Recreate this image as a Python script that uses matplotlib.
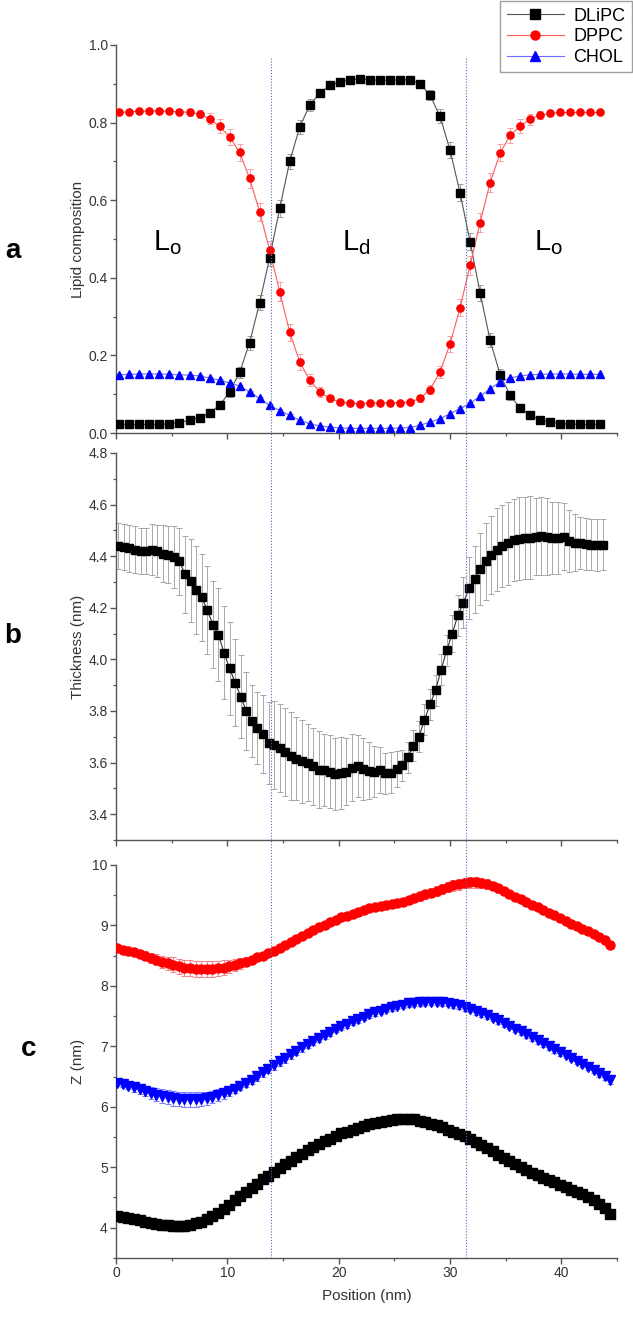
import numpy as np
import matplotlib
matplotlib.use('Agg')
from matplotlib import pyplot as plt
from matplotlib.lines import Line2D
from matplotlib import transforms
from matplotlib.ticker import MultipleLocator

plt.rcParams['font.family'] = ['Liberation Sans', 'DejaVu Sans']

# ---- panel a: lipid composition (49 points, ~0.9 nm apart)
comp_x = 0.3 + 0.9 * np.arange(49)
dlipc = [0.022, 0.022, 0.022, 0.022, 0.022, 0.024, 0.027, 0.033, 0.040, 0.052,
         0.071, 0.106, 0.156, 0.233, 0.336, 0.452, 0.579, 0.700, 0.789, 0.845,
         0.876, 0.896, 0.904, 0.910, 0.913, 0.910, 0.909, 0.909, 0.910, 0.910,
         0.900, 0.871, 0.816, 0.729, 0.619, 0.493, 0.361, 0.239, 0.150, 0.097,
         0.064, 0.046, 0.034, 0.028, 0.024, 0.023, 0.022, 0.022, 0.022]
dppc = [0.826, 0.828, 0.829, 0.830, 0.830, 0.829, 0.828, 0.826, 0.822, 0.810,
        0.790, 0.763, 0.723, 0.656, 0.570, 0.471, 0.364, 0.260, 0.183, 0.136,
        0.106, 0.089, 0.080, 0.077, 0.076, 0.077, 0.078, 0.078, 0.078, 0.080,
        0.089, 0.112, 0.157, 0.230, 0.323, 0.432, 0.542, 0.645, 0.722, 0.767,
        0.791, 0.809, 0.819, 0.824, 0.826, 0.826, 0.826, 0.826, 0.826]
chol = [0.150, 0.151, 0.152, 0.152, 0.152, 0.151, 0.150, 0.149, 0.147, 0.142,
        0.136, 0.129, 0.121, 0.106, 0.089, 0.071, 0.058, 0.046, 0.033, 0.024,
        0.018, 0.015, 0.013, 0.012, 0.012, 0.012, 0.012, 0.012, 0.013, 0.014,
        0.020, 0.028, 0.037, 0.050, 0.063, 0.077, 0.095, 0.114, 0.132, 0.142,
        0.147, 0.150, 0.151, 0.152, 0.152, 0.152, 0.151, 0.151, 0.151]
dlipc_err = [0.003, 0.003, 0.003, 0.003, 0.003, 0.004, 0.004, 0.005, 0.006, 0.008,
             0.010, 0.012, 0.015, 0.018, 0.020, 0.022, 0.022, 0.020, 0.018, 0.015,
             0.010, 0.008, 0.006, 0.005, 0.005, 0.005, 0.005, 0.005, 0.005, 0.006,
             0.008, 0.012, 0.018, 0.020, 0.022, 0.022, 0.020, 0.018, 0.015, 0.012,
             0.008, 0.006, 0.005, 0.004, 0.003, 0.003, 0.003, 0.003, 0.003]
dppc_err = [0.004, 0.004, 0.004, 0.004, 0.004, 0.005, 0.006, 0.008, 0.010, 0.014,
            0.018, 0.020, 0.022, 0.024, 0.024, 0.024, 0.024, 0.022, 0.020, 0.016,
            0.012, 0.008, 0.006, 0.005, 0.005, 0.005, 0.005, 0.005, 0.005, 0.006,
            0.008, 0.012, 0.016, 0.020, 0.022, 0.024, 0.024, 0.024, 0.022, 0.020,
            0.018, 0.014, 0.010, 0.008, 0.006, 0.005, 0.004, 0.004, 0.004]
chol_err = [0.003] * 49

# ---- panel b: thickness (88 points, 0.5 nm apart)
thick_x = 0.2 + 0.5 * np.arange(88)
thickness = [4.440, 4.435, 4.430, 4.425, 4.420, 4.420, 4.425, 4.420, 4.410, 4.405,
             4.395, 4.380, 4.330, 4.305, 4.270, 4.240, 4.190, 4.135, 4.095, 4.025,
             3.965, 3.910, 3.855, 3.800, 3.760, 3.735, 3.710, 3.675, 3.668, 3.655,
             3.640, 3.625, 3.615, 3.605, 3.600, 3.585, 3.572, 3.570, 3.565, 3.557,
             3.560, 3.565, 3.580, 3.585, 3.575, 3.568, 3.565, 3.570, 3.558, 3.560,
             3.575, 3.590, 3.620, 3.665, 3.700, 3.765, 3.825, 3.880, 3.960, 4.035,
             4.100, 4.170, 4.220, 4.275, 4.310, 4.350, 4.380, 4.405, 4.425, 4.440,
             4.450, 4.462, 4.468, 4.471, 4.472, 4.475, 4.478, 4.475, 4.470, 4.470,
             4.475, 4.457, 4.452, 4.450, 4.446, 4.445, 4.443, 4.445]
thickness_err = [0.09, 0.09, 0.09, 0.09, 0.09, 0.09, 0.10, 0.10, 0.11, 0.11,
                 0.12, 0.13, 0.15, 0.16, 0.17, 0.17, 0.17, 0.17, 0.18, 0.18,
                 0.18, 0.17, 0.16, 0.15, 0.14, 0.14, 0.15, 0.16, 0.17, 0.17,
                 0.17, 0.17, 0.16, 0.16, 0.15, 0.15, 0.15, 0.14, 0.14, 0.14,
                 0.14, 0.13, 0.13, 0.12, 0.12, 0.11, 0.10, 0.09, 0.08, 0.08,
                 0.07, 0.06, 0.06, 0.06, 0.06, 0.06, 0.06, 0.06, 0.06, 0.06,
                 0.07, 0.08, 0.10, 0.12, 0.13, 0.14, 0.15, 0.15, 0.16, 0.16,
                 0.16, 0.16, 0.16, 0.16, 0.16, 0.15, 0.15, 0.15, 0.14, 0.14,
                 0.13, 0.12, 0.11, 0.10, 0.10, 0.10, 0.10, 0.10]

# ---- panel c: Z positions (89 points)
z_x = np.linspace(0.1, 44.4, 89)
z_dppc = [8.62, 8.60, 8.58, 8.56, 8.53, 8.50, 8.46, 8.43, 8.40, 8.37,
          8.35, 8.32, 8.30, 8.29, 8.28, 8.28, 8.28, 8.28, 8.29, 8.30,
          8.32, 8.34, 8.37, 8.40, 8.43, 8.47, 8.50, 8.54, 8.58, 8.62,
          8.67, 8.72, 8.77, 8.82, 8.87, 8.92, 8.97, 9.01, 9.05, 9.09,
          9.13, 9.16, 9.19, 9.22, 9.25, 9.28, 9.30, 9.32, 9.34, 9.35,
          9.37, 9.39, 9.42, 9.45, 9.48, 9.51, 9.54, 9.57, 9.60, 9.63,
          9.66, 9.68, 9.70, 9.71, 9.71, 9.70, 9.68, 9.65, 9.61, 9.56,
          9.51, 9.47, 9.43, 9.39, 9.34, 9.30, 9.26, 9.21, 9.17, 9.12,
          9.08, 9.03, 8.99, 8.94, 8.90, 8.85, 8.80, 8.76, 8.68]
z_chol = [6.40, 6.37, 6.35, 6.32, 6.29, 6.26, 6.23, 6.20, 6.18, 6.16,
          6.14, 6.13, 6.12, 6.12, 6.12, 6.13, 6.14, 6.16, 6.19, 6.22,
          6.26, 6.30, 6.35, 6.40, 6.45, 6.51, 6.57, 6.63, 6.69, 6.75,
          6.81, 6.87, 6.92, 6.98, 7.04, 7.09, 7.14, 7.19, 7.24, 7.29,
          7.33, 7.37, 7.41, 7.45, 7.49, 7.53, 7.56, 7.59, 7.62, 7.65,
          7.67, 7.69, 7.71, 7.72, 7.73, 7.74, 7.74, 7.74, 7.73, 7.72,
          7.70, 7.68, 7.65, 7.62, 7.58, 7.55, 7.51, 7.47, 7.43, 7.38,
          7.34, 7.29, 7.25, 7.20, 7.15, 7.10, 7.05, 7.00, 6.95, 6.90,
          6.86, 6.81, 6.76, 6.71, 6.66, 6.61, 6.56, 6.51, 6.44]
z_dlipc = [4.20, 4.18, 4.16, 4.14, 4.12, 4.10, 4.08, 4.06, 4.05, 4.04,
           4.03, 4.03, 4.03, 4.05, 4.07, 4.10, 4.14, 4.19, 4.25, 4.31,
           4.38, 4.45, 4.52, 4.59, 4.66, 4.73, 4.80, 4.86, 4.92, 4.99,
           5.05, 5.11, 5.17, 5.22, 5.28, 5.33, 5.38, 5.43, 5.47, 5.52,
           5.56, 5.59, 5.62, 5.65, 5.68, 5.71, 5.73, 5.75, 5.77, 5.78,
           5.79, 5.80, 5.80, 5.79, 5.77, 5.75, 5.72, 5.69, 5.66, 5.62,
           5.59, 5.55, 5.51, 5.46, 5.42, 5.37, 5.32, 5.27, 5.21, 5.16,
           5.10, 5.05, 5.00, 4.95, 4.91, 4.87, 4.83, 4.79, 4.75, 4.71,
           4.67, 4.63, 4.59, 4.55, 4.50, 4.45, 4.40, 4.33, 4.23]
z_dppc_err = [0.04, 0.04, 0.05, 0.05, 0.06, 0.07, 0.08, 0.09, 0.10, 0.11,
              0.12, 0.12, 0.13, 0.13, 0.13, 0.13, 0.13, 0.13, 0.12, 0.12,
              0.11, 0.10, 0.09, 0.08, 0.07, 0.06, 0.06, 0.05, 0.05, 0.05,
              0.05, 0.05, 0.05, 0.05, 0.05, 0.05, 0.05, 0.05, 0.05, 0.05,
              0.05, 0.05, 0.05, 0.05, 0.05, 0.05, 0.05, 0.05, 0.05, 0.05,
              0.05, 0.06, 0.06, 0.06, 0.07, 0.07, 0.07, 0.08, 0.08, 0.08,
              0.09, 0.09, 0.09, 0.09, 0.09, 0.08, 0.08, 0.07, 0.07, 0.06,
              0.06, 0.05, 0.05, 0.05, 0.05, 0.05, 0.05, 0.05, 0.05, 0.05,
              0.05, 0.05, 0.05, 0.05, 0.05, 0.05, 0.05, 0.05, 0.05]
z_chol_err = [0.05, 0.05, 0.06, 0.07, 0.08, 0.09, 0.10, 0.11, 0.12, 0.12,
              0.12, 0.12, 0.12, 0.12, 0.12, 0.12, 0.11, 0.10, 0.10, 0.09,
              0.09, 0.08, 0.08, 0.08, 0.08, 0.08, 0.08, 0.08, 0.08, 0.08,
              0.08, 0.08, 0.07, 0.07, 0.07, 0.07, 0.07, 0.07, 0.07, 0.06,
              0.06, 0.06, 0.06, 0.06, 0.06, 0.06, 0.06, 0.06, 0.06, 0.06,
              0.06, 0.06, 0.06, 0.06, 0.06, 0.06, 0.06, 0.06, 0.06, 0.06,
              0.06, 0.06, 0.06, 0.06, 0.06, 0.06, 0.06, 0.06, 0.06, 0.06,
              0.06, 0.06, 0.06, 0.06, 0.06, 0.06, 0.06, 0.06, 0.06, 0.06,
              0.06, 0.06, 0.06, 0.06, 0.06, 0.06, 0.06, 0.06, 0.06]
z_dlipc_err = [0.05, 0.05, 0.05, 0.06, 0.06, 0.07, 0.07, 0.08, 0.08, 0.08,
               0.08, 0.08, 0.08, 0.08, 0.08, 0.07, 0.07, 0.06, 0.06, 0.05,
               0.05, 0.05, 0.05, 0.05, 0.05, 0.05, 0.05, 0.05, 0.05, 0.05,
               0.05, 0.05, 0.05, 0.05, 0.05, 0.05, 0.05, 0.05, 0.05, 0.05,
               0.05, 0.05, 0.05, 0.05, 0.05, 0.05, 0.05, 0.05, 0.05, 0.05,
               0.05, 0.05, 0.05, 0.05, 0.05, 0.05, 0.05, 0.05, 0.05, 0.05,
               0.05, 0.05, 0.05, 0.05, 0.05, 0.05, 0.05, 0.05, 0.05, 0.05,
               0.05, 0.05, 0.05, 0.05, 0.05, 0.05, 0.05, 0.05, 0.05, 0.05,
               0.05, 0.05, 0.05, 0.05, 0.05, 0.05, 0.05, 0.05, 0.05]

boundaries = [13.9, 31.4]
phase_labels = ['$\\mathregular{L_o}$', '$\\mathregular{L_d}$', '$\\mathregular{L_o}$']
phase_x = [4.6, 21.6, 38.8]

AX_COL = '#555555'
TXT_COL = '#333333'
TICK_FS = 10
LABEL_FS = 11


def style_axis(ax, ylim, major, minor, show_x):
    for s in ['top', 'right']:
        ax.spines[s].set_visible(False)
    for s in ['left', 'bottom']:
        ax.spines[s].set_color(AX_COL)
        ax.spines[s].set_linewidth(1.0)
    ax.set_xlim(0, 45)
    ax.set_ylim(*ylim)
    ax.xaxis.set_major_locator(MultipleLocator(10))
    ax.xaxis.set_minor_locator(MultipleLocator(5))
    ax.yaxis.set_major_locator(MultipleLocator(major))
    ax.yaxis.set_minor_locator(MultipleLocator(minor))
    ax.tick_params(which='major', direction='out', length=4, width=1.0,
                   color=AX_COL, labelcolor=TXT_COL, labelsize=TICK_FS, pad=2)
    ax.tick_params(which='minor', direction='out', length=2.5, width=0.9,
                   color=AX_COL)
    if not show_x:
        ax.tick_params(axis='x', which='both', labelbottom=False)


fig = plt.figure(figsize=(6.33, 13.19), dpi=100)
L, W = 0.1833, 0.7915
ax_a = fig.add_axes([L, 0.6717, W, 0.2942])
ax_b = fig.add_axes([L, 0.3632, W, 0.2934])
ax_c = fig.add_axes([L, 0.0463, W, 0.2980])

# panel a
series_a = [
    (dlipc, dlipc_err, 's', 'black', '#555555', '#9a9a9a', 'DLiPC'),
    (dppc, dppc_err, 'o', 'red', '#ff5a5a', '#f4a0a8', 'DPPC'),
    (chol, chol_err, '^', 'blue', '#6b6bff', '#9a9aff', 'CHOL'),
]
handles = []
for y, e, m, c, lc, ec, name in series_a:
    ax_a.errorbar(comp_x, y, yerr=e, fmt='none', ecolor=ec, elinewidth=0.7,
                  capsize=2, capthick=0.7, zorder=2)
    ax_a.plot(comp_x, y, color=lc, lw=0.8, zorder=3)
    ax_a.plot(comp_x, y, ls='none', marker=m, ms=5.2, mfc=c, mec=c, zorder=4)
    handles.append(Line2D([], [], color=lc, lw=0.8, marker=m, ms=6.5,
                          mfc=c, mec=c, label=name))
style_axis(ax_a, (0, 1.0), 0.2, 0.1, False)
ax_a.set_ylabel('Lipid composition', fontsize=LABEL_FS, color=TXT_COL)
ax_a.yaxis.set_label_coords(-0.062, 0.5)
for px, lab in zip(phase_x, phase_labels):
    ax_a.text(px, 0.49, lab, fontsize=21, ha='center', va='center', color='black')

# panel b
ax_b.errorbar(thick_x, thickness, yerr=thickness_err, fmt='none', ecolor='#9a9a9a',
              elinewidth=0.6, capsize=2, capthick=0.6, zorder=2)
ax_b.plot(thick_x, thickness, color='#333333', lw=0.8, marker='s', ms=5.2,
          mfc='black', mec='black', zorder=3)
style_axis(ax_b, (3.3, 4.8), 0.2, 0.1, False)
ax_b.set_ylabel('Thickness (nm)', fontsize=LABEL_FS, color=TXT_COL)
ax_b.yaxis.set_label_coords(-0.062, 0.5)

# panel c
series_c = [
    (z_dppc, z_dppc_err, 'o', 'red', '#f08890'),
    (z_chol, z_chol_err, 'v', 'blue', '#8080ff'),
    (z_dlipc, z_dlipc_err, 's', 'black', '#808080'),
]
for y, e, m, c, ec in series_c:
    ax_c.errorbar(z_x, y, yerr=e, fmt='none', ecolor=ec, elinewidth=0.8,
                  capsize=2.5, capthick=0.8, zorder=2)
    ax_c.plot(z_x, y, ls='none', marker=m, ms=6.5, mfc=c, mec=c, zorder=3)
style_axis(ax_c, (3.5, 10), 1, 0.5, True)
ax_c.set_ylabel('Z (nm)', fontsize=LABEL_FS, color=TXT_COL)
ax_c.yaxis.set_label_coords(-0.062, 0.5)
ax_c.set_xlabel('Position (nm)', fontsize=LABEL_FS, color=TXT_COL, labelpad=6)

# dotted phase boundaries running through all panels
tr = transforms.blended_transform_factory(ax_c.transData, fig.transFigure)
for bx in boundaries:
    fig.add_artist(Line2D([bx, bx], [0.0463, 0.956], transform=tr,
                          color='#4a6fb5', lw=0.8, ls=(0, (1, 1.6)), zorder=5))

# panel letters
fig.text(0.02, 0.81, 'a', fontsize=20, fontweight='bold', ha='center', va='center')
fig.text(0.02, 0.518, 'b', fontsize=20, fontweight='bold', ha='center', va='center')
fig.text(0.045, 0.205, 'c', fontsize=20, fontweight='bold', ha='center', va='center')

fig.legend(handles=handles, loc='upper right', bbox_to_anchor=(0.998, 0.999),
           fontsize=13, frameon=True, fancybox=False, edgecolor='#888888',
           handlelength=3.2, borderpad=0.35, labelspacing=0.2, handletextpad=0.5,
           borderaxespad=0)

fig.savefig('out.png', dpi=100)
